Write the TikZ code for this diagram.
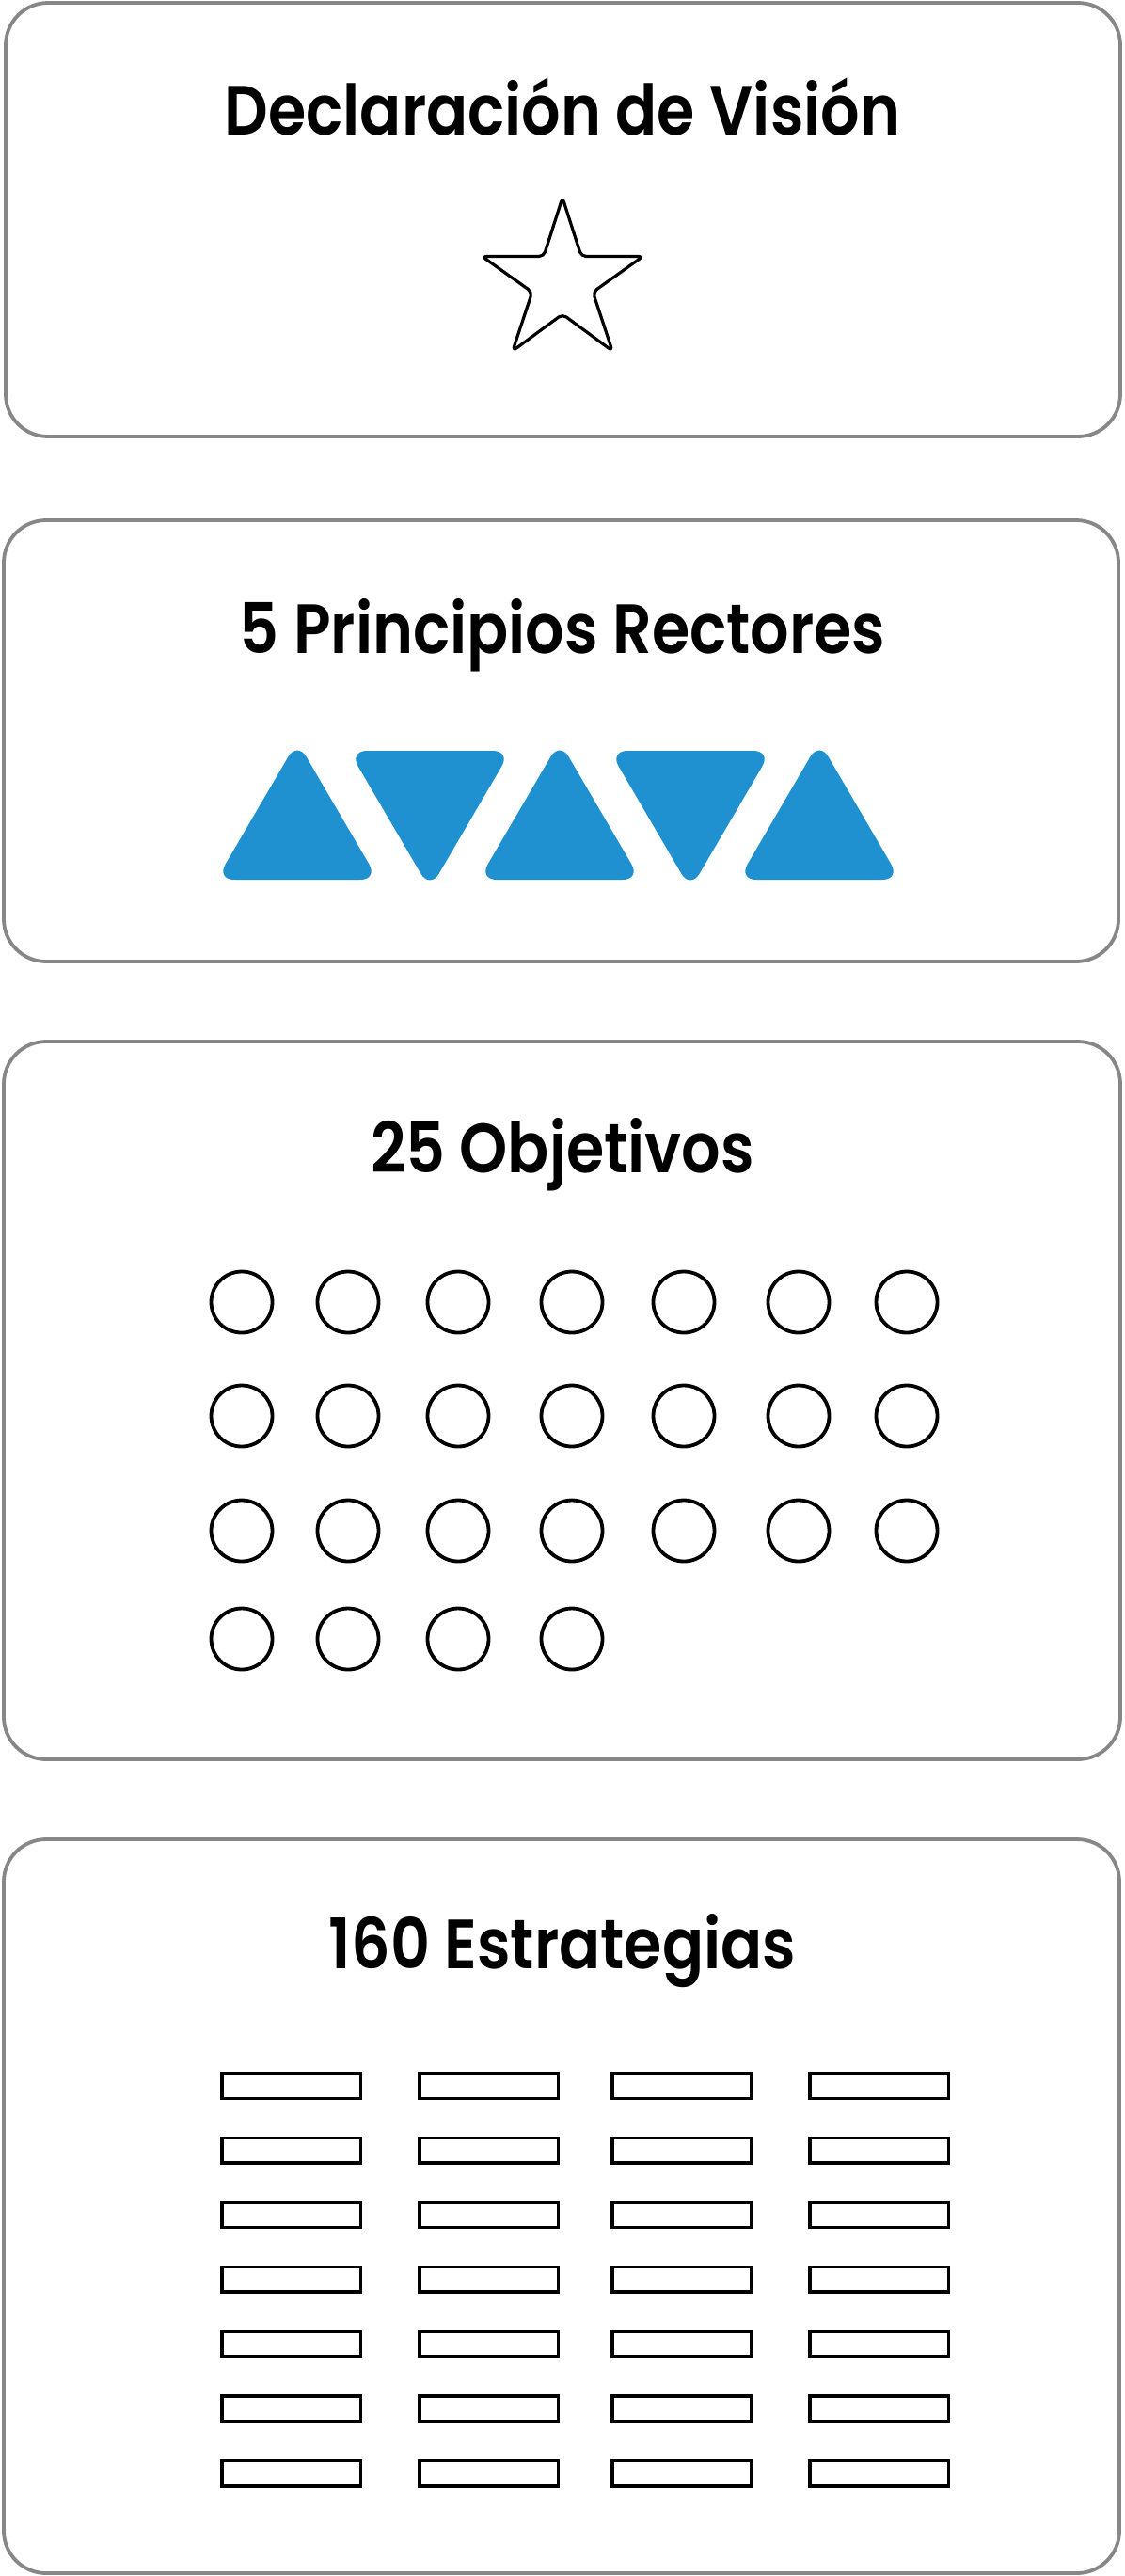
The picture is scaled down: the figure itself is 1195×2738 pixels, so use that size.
\documentclass[tikz,border=0pt]{standalone}
\usepackage{fontspec}
\newfontfamily\titlefont{Poppins}[UprightFont=* SemiBold, FakeStretch=0.88]
\definecolor{boxgray}{RGB}{135,135,138}
\definecolor{triblue}{RGB}{31,144,208}
\tikzset{
  panel/.style={draw=boxgray, line width=3.8bp, rounded corners=45bp, fill=white},
  titletext/.style={font=\titlefont\fontsize{74bp}{80bp}\selectfont, anchor=base, inner sep=0pt},
  starshape/.style={draw=black, line width=3.2bp, rounded corners=5bp, line join=round},
  tri/.style={fill=triblue, rounded corners=19bp},
  objcircle/.style={draw=black, line width=3.8bp},
  stratbar/.style={draw=black, line width=3.5bp}
}
\begin{document}
\begin{tikzpicture}[x=1bp,y=-1bp]
\useasboundingbox (0,0) rectangle (1195,2738);
% panels
\draw[panel] (6,3) rectangle (1191,464);
\draw[panel] (4,553) rectangle (1189,1022);
\draw[panel] (4,1107) rectangle (1191,1870);
\draw[panel] (4,1955) rectangle (1190,2735);
% titles
\node[titletext] (t1) at (598,143) {Declaración de Visión};
\node[titletext] (t2) at (598,694) {5 Principios Rectores};
\node[titletext] (t3) at (598,1246) {25 Objetivos};
\node[titletext] (t4) at (598,2092) {160 Estrategias};
% star
\draw[starshape] (598,210) -- (618,272.5) -- (683.5,272.5) -- (630.3,310.5) -- (651,373)
  -- (598,334) -- (545,373) -- (565.7,310.5) -- (512.5,272.5) -- (578,272.5) -- cycle;
% triangles
\foreach \cx in {316,595,871}{
  \fill[tri] (\cx,788) -- (\cx+86,935) -- (\cx-86,935) -- cycle;
}
\foreach \cx in {457,734}{
  \fill[tri] (\cx-86,798) -- (\cx+86,798) -- (\cx,945) -- cycle;
}
% circles
\foreach \yy in {1384,1505,1627}{
  \foreach \xx in {257,370,487,608,727,849,964}{
    \draw[objcircle] (\xx,\yy) circle[radius=32.5bp];
  }
}
\foreach \xx in {257,370,487,608}{
  \draw[objcircle] (\xx,1742) circle[radius=32.5bp];
}
% strategy bars
\foreach \k in {0,...,6}{
  \foreach \xx in {234,444,649,859}{
    \draw[stratbar] (\xx+1.75,2203.75+\k*68.6) rectangle (\xx+149.25,2230.25+\k*68.6);
  }
}
\end{tikzpicture}
\end{document}
